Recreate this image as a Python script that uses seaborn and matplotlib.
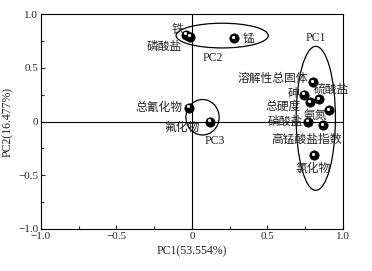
import seaborn as sns
import matplotlib.pyplot as plt
import pandas as pd
import numpy as np
from matplotlib.patches import Ellipse
from matplotlib.transforms import offset_copy

# loadings
names = ['铁', '磷酸盐', '锰', '溶解性总固体', '砷', '硫酸盐', '总硬度', '氨氮',
         '硝酸盐', '高锰酸盐指数', '氯化物', '总氰化物', '氟化物']
pc1 = [-0.04, -0.01, 0.28, 0.80, 0.74, 0.84, 0.78, 0.91, 0.77, 0.87, 0.81, -0.02, 0.12]
pc2 = [0.81, 0.79, 0.78, 0.37, 0.25, 0.21, 0.18, 0.11, 0.00, -0.03, -0.31, 0.13, 0.00]

# groups drawn as ellipses: name, centre x, centre y, width, height
groups = ['PC1', 'PC2', 'PC3']
group_cx = [0.82, 0.20, 0.07]
group_cy = [0.03, 0.80, 0.04]
group_w = [0.26, 0.61, 0.22]
group_h = [1.34, 0.23, 0.33]

df = pd.DataFrame({'name': names, 'PC1': pc1, 'PC2': pc2})

# label placement (pixel offsets from point, alignment)
lab = {
    '铁': (-3, 5, 'right'), '磷酸盐': (-9, -10, 'right'), '锰': (8, -1, 'left'),
    '溶解性总固体': (-5, 3, 'right'), '砷': (-4, 1, 'right'), '硫酸盐': (-5, 9, 'left'),
    '总硬度': (-9, -4, 'right'), '氨氮': (-14, -6, 'center'), '硝酸盐': (-5, 0, 'right'),
    '高锰酸盐指数': (-17, -15, 'center'), '氯化物': (-1, -14, 'center'),
    '总氰化物': (-6, 0, 'right'), '氟化物': (-28, -6, 'center'),
}
# group label offset from ellipse centre (data units)
glab = {'PC1': (0.0, 0.75), 'PC2': (-0.06, -0.21), 'PC3': (0.08, -0.22)}

sns.set_style('ticks')
plt.rcParams['font.family'] = ['Liberation Serif', 'Noto Sans CJK SC']
plt.rcParams['axes.unicode_minus'] = True

fig = plt.figure(figsize=(3.72, 2.71), dpi=100)
ax = fig.add_axes([0.110, 0.155, 0.812, 0.793])

ax.axhline(0, color='black', lw=0.8, zorder=1)
ax.axvline(0, color='black', lw=0.8, zorder=1)

sns.scatterplot(data=df, x='PC1', y='PC2', color='black', s=45, edgecolor='black',
                linewidth=0.5, ax=ax, zorder=3)
hl = offset_copy(ax.transData, fig=fig, x=-1.2, y=1.2, units='dots')
ax.scatter(df['PC1'], df['PC2'], s=5, color='white', transform=hl, zorder=4, linewidths=0)

for n, x, y in zip(names, pc1, pc2):
    dx, dy, ha = lab[n]
    ax.annotate(n, (x, y), xytext=(dx, dy), textcoords='offset pixels',
                ha=ha, va='center', fontsize=8.5, zorder=5)

for g, cx, cy, w, h in zip(groups, group_cx, group_cy, group_w, group_h):
    ax.add_patch(Ellipse((cx, cy), w, h, fill=False, edgecolor='black', lw=0.9, zorder=2))
    ox, oy = glab[g]
    ax.text(cx + ox, cy + oy, g, ha='center', va='center', fontsize=8.5)

ax.set_xlim(-1, 1)
ax.set_ylim(-1, 1)
ax.set_xticks([-1, -0.5, 0, 0.5, 1])
ax.set_xticklabels(['\u22121.0', '\u22120.5', '0', '0.5', '1.0'])
ax.set_yticks([-1, -0.5, 0, 0.5, 1])
ax.set_yticklabels(['\u22121.0', '\u22120.5', '0', '0.5', '1.0'])
ax.set_xticks(np.arange(-1, 1.01, 0.25), minor=True)
ax.set_yticks(np.arange(-1, 1.01, 0.25), minor=True)
ax.tick_params(direction='in', length=3, width=0.8, labelsize=8, pad=2)
ax.tick_params(which='minor', direction='in', length=2, width=0.8)
for s in ax.spines.values():
    s.set_linewidth(0.8)
    s.set_color('black')

ax.set_xlabel('PC1(53.554%)', fontsize=8.5, labelpad=3)
ax.set_ylabel('PC2(16.477%)', fontsize=8.5, labelpad=3)

fig.savefig('out.png', dpi=100)
